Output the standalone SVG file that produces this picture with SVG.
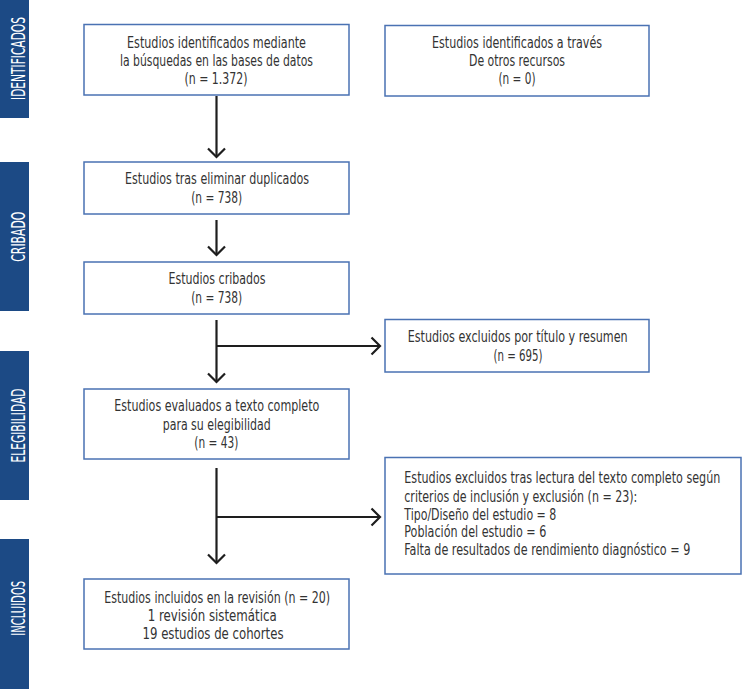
<svg xmlns="http://www.w3.org/2000/svg" width="743" height="689" viewBox="0 0 743 689">
<style>
.bar{fill:#1c4a85}
.lab{fill:#ffffff;font-family:"Liberation Sans Narrow","DejaVu Sans Condensed","Liberation Sans",sans-serif;font-size:19px;text-anchor:middle}
.box{fill:#ffffff;stroke:#4a72b3;stroke-width:1.5}
.t{fill:#333333;font-family:"Liberation Sans Narrow","DejaVu Sans Condensed","Liberation Sans",sans-serif;font-size:16.5px;text-anchor:middle}
.tl{fill:#333333;font-family:"Liberation Sans Narrow","DejaVu Sans Condensed","Liberation Sans",sans-serif;font-size:16.5px;text-anchor:start}
.ln{fill:none;stroke:#1e1e1e;stroke-width:2.2}
</style>
<defs>
<marker id="ah" markerUnits="userSpaceOnUse" markerWidth="14" markerHeight="22" viewBox="0 0 14 22" refX="11" refY="11" orient="auto">
<path d="M2.5,2.5 L11,11 L2.5,19.5" fill="none" stroke="#1e1e1e" stroke-width="2.2"/>
</marker>
</defs>
<rect width="743" height="689" fill="#ffffff"/>
<g id="phases">
<g id="phase-identificados"><rect class="bar" x="0" y="0" width="29" height="118"/><text class="lab" transform="translate(25,58.5) rotate(-90)" textLength="83" lengthAdjust="spacingAndGlyphs">IDENTIFICADOS</text></g>
<g id="phase-cribado"><rect class="bar" x="0" y="162" width="29" height="149"/><text class="lab" transform="translate(25,236.7) rotate(-90)" textLength="50" lengthAdjust="spacingAndGlyphs">CRIBADO</text></g>
<g id="phase-elegibilidad"><rect class="bar" x="0" y="351" width="29" height="149"/><text class="lab" transform="translate(25,425.5) rotate(-90)" textLength="74" lengthAdjust="spacingAndGlyphs">ELEGIBILIDAD</text></g>
<g id="phase-incluidos"><rect class="bar" x="0" y="539" width="29" height="150"/><text class="lab" transform="translate(25,608.3) rotate(-90)" textLength="55" lengthAdjust="spacingAndGlyphs">INCLUIDOS</text></g>
</g>
<g id="connectors">
<line class="ln" x1="216.5" y1="96" x2="216.5" y2="157" marker-end="url(#ah)"/>
<line class="ln" x1="216.5" y1="220" x2="216.5" y2="255" marker-end="url(#ah)"/>
<line class="ln" x1="216.5" y1="320" x2="216.5" y2="382" marker-end="url(#ah)"/>
<line class="ln" x1="216.5" y1="346" x2="380" y2="346" marker-end="url(#ah)"/>
<line class="ln" x1="216.5" y1="468" x2="216.5" y2="563" marker-end="url(#ah)"/>
<line class="ln" x1="216.5" y1="517" x2="380" y2="517" marker-end="url(#ah)"/>
</g>
<g id="node-identificados-db">
<rect class="box" x="84" y="24.5" width="265" height="70.5"/>
<text class="t" x="216.5" y="48" textLength="179" lengthAdjust="spacingAndGlyphs">Estudios identificados mediante</text>
<text class="t" x="216.5" y="66" textLength="193" lengthAdjust="spacingAndGlyphs">la búsquedas en las bases de datos</text>
<text class="t" x="216" y="84" textLength="63" lengthAdjust="spacingAndGlyphs">(n = 1.372)</text>
</g>
<g id="node-identificados-otros">
<rect class="box" x="385" y="25.5" width="264" height="70.5"/>
<text class="t" x="517" y="48" textLength="170" lengthAdjust="spacingAndGlyphs">Estudios identificados a través</text>
<text class="t" x="517" y="66" textLength="96" lengthAdjust="spacingAndGlyphs">De otros recursos</text>
<text class="t" x="517" y="84" textLength="37" lengthAdjust="spacingAndGlyphs">(n = 0)</text>
</g>
<g id="node-duplicados">
<rect class="box" x="84" y="162" width="265" height="52"/>
<text class="t" x="217" y="184" textLength="184" lengthAdjust="spacingAndGlyphs">Estudios tras eliminar duplicados</text>
<text class="t" x="216.7" y="203" textLength="51" lengthAdjust="spacingAndGlyphs">(n = 738)</text>
</g>
<g id="node-cribados">
<rect class="box" x="84" y="262" width="265" height="52"/>
<text class="t" x="217" y="284" textLength="97" lengthAdjust="spacingAndGlyphs">Estudios cribados</text>
<text class="t" x="216.7" y="303" textLength="51" lengthAdjust="spacingAndGlyphs">(n = 738)</text>
</g>
<g id="node-excluidos-titulo">
<rect class="box" x="385" y="319.5" width="264" height="52.5"/>
<text class="t" x="517.7" y="342" textLength="220" lengthAdjust="spacingAndGlyphs">Estudios excluidos por título y resumen</text>
<text class="t" x="518" y="361" textLength="49" lengthAdjust="spacingAndGlyphs">(n = 695)</text>
</g>
<g id="node-evaluados">
<rect class="box" x="84" y="389" width="265" height="70"/>
<text class="t" x="216.8" y="411" textLength="205" lengthAdjust="spacingAndGlyphs">Estudios evaluados a texto completo</text>
<text class="t" x="216.7" y="429.5" textLength="108" lengthAdjust="spacingAndGlyphs">para su elegibilidad</text>
<text class="t" x="216.3" y="448" textLength="44" lengthAdjust="spacingAndGlyphs">(n = 43)</text>
</g>
<g id="node-excluidos-texto">
<rect class="box" x="385" y="457.5" width="356" height="116.5"/>
<text class="tl" x="404.3" y="482.7" textLength="316" lengthAdjust="spacingAndGlyphs">Estudios excluidos tras lectura del texto completo según</text>
<text class="tl" x="404.3" y="501.5" textLength="233" lengthAdjust="spacingAndGlyphs">criterios de inclusión y exclusión (n = 23):</text>
<text class="tl" x="404.3" y="519.5" textLength="152" lengthAdjust="spacingAndGlyphs">Tipo/Diseño del estudio = 8</text>
<text class="tl" x="404.3" y="537.3" textLength="142" lengthAdjust="spacingAndGlyphs">Población del estudio = 6</text>
<text class="tl" x="404.3" y="555" textLength="286" lengthAdjust="spacingAndGlyphs">Falta de resultados de rendimiento diagnóstico = 9</text>
</g>
<g id="node-incluidos">
<rect class="box" x="84" y="579" width="265" height="70"/>
<text class="t" x="217.2" y="603" textLength="226" lengthAdjust="spacingAndGlyphs">Estudios incluidos en la revisión (n = 20)</text>
<text class="t" x="212.2" y="621" textLength="129" lengthAdjust="spacingAndGlyphs">1 revisión sistemática</text>
<text class="t" x="213" y="639" textLength="141" lengthAdjust="spacingAndGlyphs">19 estudios de cohortes</text>
</g>
</svg>
